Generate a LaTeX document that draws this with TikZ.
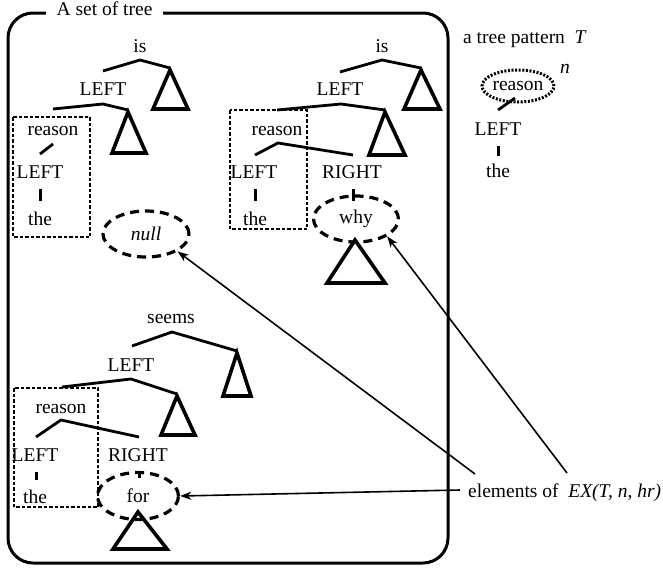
\documentclass[tikz,border=0pt]{standalone}
\usepackage{fontspec}
\setmainfont{Liberation Serif}
\newfontfamily\timesf{Liberation Serif}
\usetikzlibrary{shapes.geometric,arrows.meta}
\begin{document}
\begin{tikzpicture}[x=1pt,y=-1pt,
  lbl/.style={inner sep=0pt, anchor=base, font=\timesf\fontsize{19.5}{22}\selectfont},
  br/.style={line width=2.8pt},
  tri/.style={line width=3.6pt, line join=miter},
  tk/.style={line width=3pt},
  dbox/.style={line width=1.3pt, dash pattern=on 3.5pt off 2pt},
  dell/.style={draw, ellipse, inner sep=0pt, line width=3.2pt, dash pattern=on 9pt off 6pt, font=\timesf\fontsize{19.5}{22}\selectfont},
  dotell/.style={draw, ellipse, inner sep=0pt, line width=3pt, dash pattern=on 2pt off 1.6pt, font=\timesf\fontsize{19.5}{22}\selectfont},
  arr/.style={line width=1.6pt, -{Stealth[length=11pt,width=8pt,inset=3pt]}},
]
\useasboundingbox (0,0) rectangle (663,570);

% frame
\draw[line width=3pt, rounded corners=25pt] (8,13) rectangle (448,563);
\node[lbl, fill=white, inner xsep=11pt, inner ysep=3pt] (title) at (104.5,16) {A set of tree};

% ---------- tree 1 ----------
\node[lbl] (is1) at (140,52) {is};
\draw[br] (103,71) -- (140,60) -- (170,68);
\draw[tri] (170,70) -- (153,109) -- (188,109) -- cycle;
\node[lbl] (left1) at (103,95) {LEFT};
\draw[br] (53,109) -- (103,104) -- (128,110);
\draw[tri] (128,112) -- (112,153) -- (146,153) -- cycle;
\draw[dbox] (13,117) rectangle (90,237);
\node[lbl] (reason1) at (53,135) {reason};
\draw[br] (40,154) -- (53,144);
\node[lbl] (leftb1) at (40,178) {LEFT};
\draw[tk] (40,189) -- (40,201);
\node[lbl] (the1) at (40,225) {the};
\node[dell, minimum width=86pt, minimum height=46pt] (null) at (146,234) {\textit{null}};

% ---------- tree 2 ----------
\node[lbl] (is2) at (382,52) {is};
\draw[br] (340,72) -- (382,60) -- (421,68);
\draw[tri] (421,70) -- (404,109) -- (440,109) -- cycle;
\node[lbl] (left2) at (340,95) {LEFT};
\draw[br] (277,110) -- (341,104) -- (385,110);
\draw[tri] (385,112) -- (369,155) -- (405,155) -- cycle;
\draw[dbox] (230,110) rectangle (307,229);
\node[lbl] (reason2) at (277,135) {reason};
\draw[br] (255,155) -- (278,143) -- (353,155);
\node[lbl] (leftb2) at (254,178) {LEFT};
\node[lbl] (right2) at (352,178) {RIGHT};
\draw[tk] (255,189) -- (255,201);
\draw[tk] (353,189) -- (353,201);
\node[lbl] (the2) at (255,225) {the};
\node[dell, minimum width=85pt, minimum height=46pt] (why) at (356,219) {why};
\draw[tri] (355,240) -- (327,283) -- (385,283) -- cycle;

% ---------- pattern ----------
\node[lbl, anchor=base west] (pat) at (463,43) {a tree pattern~~\textit{T}};
\node[lbl] (n) at (565,73) {\textit{n}};
\node[dotell, minimum width=69pt, minimum height=32pt] (preason) at (518,86) {reason};
\draw[br] (498,110) -- (515,98);
\node[lbl] (pleft) at (498,135) {LEFT};
\draw[tk] (498,146) -- (498,156);
\node[lbl] (pthe) at (498,177) {the};

% ---------- tree 3 ----------
\node[lbl] (seems) at (171,323) {seems};
\draw[br] (132,346) -- (172,332) -- (237,351);
\draw[tri] (237,353) -- (223,396) -- (251,396) -- cycle;
\node[lbl] (left3) at (131,371) {LEFT};
\draw[br] (62,387) -- (131,379) -- (177,394);
\draw[tri] (177,396) -- (161,435) -- (195,435) -- cycle;
\draw[dbox] (14,388) rectangle (98,507);
\node[lbl] (reason3) at (61,413) {reason};
\draw[br] (36,437) -- (61,420) -- (139,437);
\node[lbl] (leftb3) at (35,461) {LEFT};
\node[lbl] (right3) at (138,461) {RIGHT};
\draw[tk] (36,472) -- (36,480);
\draw[tk] (139,471) -- (139,478);
\node[lbl] (the3) at (35,503) {the};
\node[dell, minimum width=81pt, minimum height=47pt] (for) at (138,496) {for};
\draw[tri] (138,512) -- (113,549) -- (167,549) -- cycle;

% ---------- elements + arrows ----------
\node[lbl, anchor=base west] (elem) at (468,497) {elements of~~\textit{EX(T, n, hr)}};
\coordinate (s1) at (460,490);
\coordinate (s2) at (475,474);
\coordinate (s3) at (567,473);
\draw[arr] (s1) -- (for.east);
\draw[arr] (s2) -- (null.south east);
\draw[arr] (s3) -- (why.south east);
\end{tikzpicture}
\end{document}
